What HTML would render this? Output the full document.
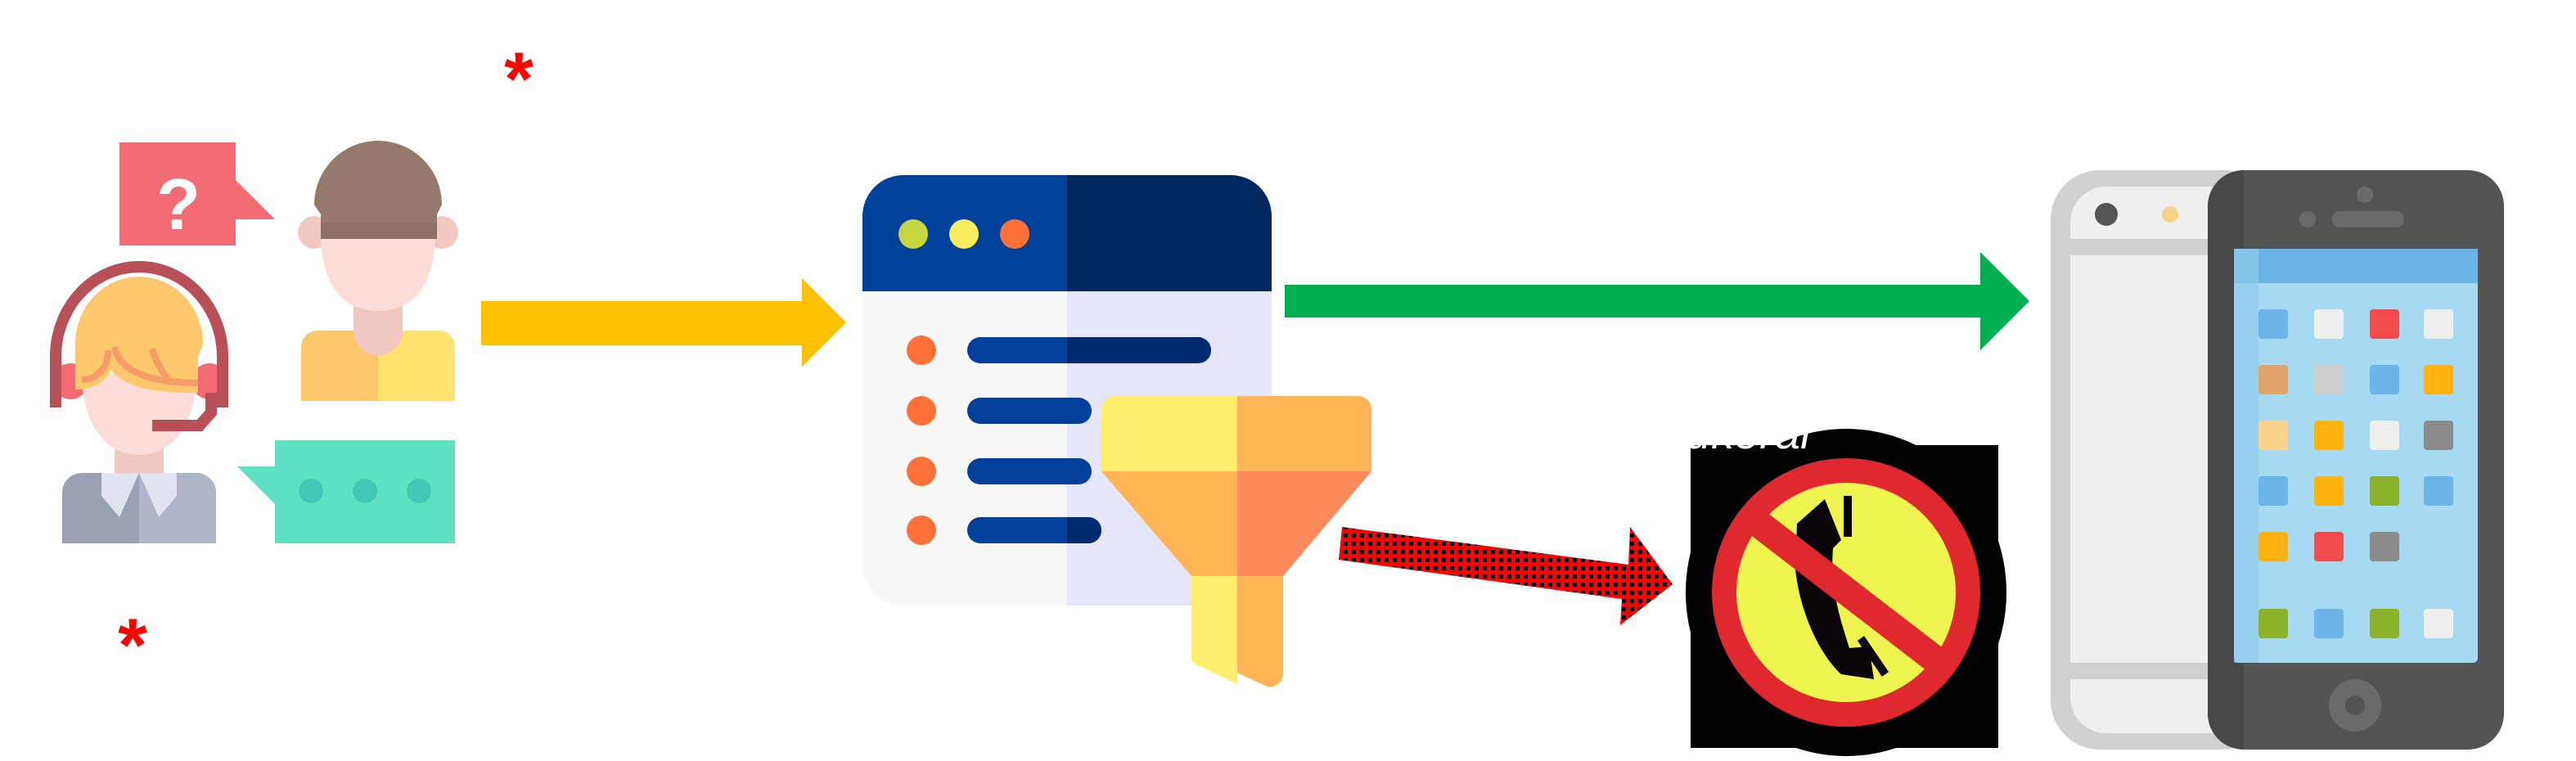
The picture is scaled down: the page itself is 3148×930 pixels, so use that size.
<!DOCTYPE html>
<html><head><meta charset="utf-8"><style>html,body{margin:0;padding:0;background:#fff}svg{display:block}</style></head>
<body>
<svg width="3148" height="930" viewBox="0 0 1574 465" xmlns="http://www.w3.org/2000/svg" font-family="Liberation Sans, sans-serif">
<defs>
<pattern id="dots" width="5" height="5" patternUnits="userSpaceOnUse"><rect width="5" height="5" fill="#ff0000"/><rect x="1" y="1" width="2.4" height="2.4" fill="#000"/></pattern>
<clipPath id="bw"><rect x="527" y="107" width="250" height="263" rx="25"/></clipPath>
</defs>
<!-- asterisks -->
<text x="317" y="64" font-size="46" font-weight="bold" fill="#f00" text-anchor="middle">*</text>
<text x="81" y="410" font-size="46" font-weight="bold" fill="#f00" text-anchor="middle">*</text>
<!-- question bubble -->
<path d="M73 87H144V110L168 134H144V150H73Z" fill="#f36b75"/>
<text x="109" y="140" font-size="44" font-weight="bold" fill="#fff" text-anchor="middle">?</text>
<!-- man -->
<circle cx="192" cy="142" r="10" fill="#f1c8c0"/><circle cx="270" cy="142" r="10" fill="#f1c8c0"/>
<rect x="216" y="175" width="30" height="42" rx="14" fill="#f1c8c0"/>
<path d="M184 212a10 10 0 0 1 10-10h22a15 15 0 0 0 30 0h22a10 10 0 0 1 10 10v33H184Z" fill="#fdc86b"/>
<path d="M231 217a15 15 0 0 0 15-15h22a10 10 0 0 1 10 10v33H231Z" fill="#ffe26f"/>
<path d="M196 142c0 30 12 48 35 48s35-18 35-48Z" fill="#fbdcd8"/>
<path d="M192 125a39 39 0 0 1 78 0l-3 6v15H196v-15Z" fill="#95796a"/>
<rect x="196" y="136" width="71" height="10" fill="#8c7164"/>
<!-- woman -->
<rect x="70" y="270" width="30" height="30" fill="#f1c8c0"/>
<path d="M38 301a12 12 0 0 1 12-12h70a12 12 0 0 1 12 12v31H38Z" fill="#9aa1b2"/>
<path d="M85 289h35a12 12 0 0 1 12 12v31H85Z" fill="#afb4c8"/>
<path d="M62 289h23l-12 27-11-13Z" fill="#e1e3ee"/><path d="M108 289H85l12 27 11-13Z" fill="#e1e3ee"/>
<circle cx="43" cy="233" r="11" fill="#f36b75"/><circle cx="128" cy="233" r="11" fill="#f36b75"/>
<path d="M50 228c0 30 14 50 35 50s35-20 35-50Z" fill="#fbdcd8"/>
<path d="M46 210a39 41 0 0 1 78 0l-3 8v22c-30 0-45-4-53-14-3 6-10 12-22 12v-20Z" fill="#fdc86b"/>
<path d="M50 232c10 0 16-8 16-18M70 212c3 18 30 22 51 22M93 213c2 8 5 12 9 18" stroke="#f59d64" stroke-width="4" fill="none"/>
<path d="M34 249V218a51 55 0 0 1 102 0v31" stroke="#b85058" stroke-width="7" fill="none"/>
<path d="M129 240v12l-7 8H93" stroke="#b85058" stroke-width="7" fill="none"/>
<!-- teal bubble -->
<path d="M168 269H278V332H168V308L145 285H168Z" fill="#5fe0c1"/>
<circle cx="190" cy="300" r="7.5" fill="#44c7b5"/><circle cx="223" cy="300" r="7.5" fill="#44c7b5"/><circle cx="256" cy="300" r="7.5" fill="#44c7b5"/>
<!-- yellow arrow -->
<path d="M294 184H490V170L517 197L490 224V211H294Z" fill="#ffc000"/>
<!-- browser -->
<g clip-path="url(#bw)">
<rect x="527" y="107" width="125" height="71" fill="#00429b"/>
<rect x="652" y="107" width="125" height="71" fill="#00275e"/>
<rect x="527" y="178" width="125" height="192" fill="#f8f8f8"/>
<rect x="652" y="178" width="125" height="192" fill="#e5e5fc"/>
</g>
<circle cx="558" cy="143" r="9" fill="#c5d63e"/><circle cx="589" cy="143" r="9" fill="#f8ed5f"/><circle cx="620" cy="143" r="9" fill="#ff7139"/>
<g fill="#ff7139"><circle cx="563" cy="214" r="9"/><circle cx="563" cy="251" r="9"/><circle cx="563" cy="288" r="9"/><circle cx="563" cy="324" r="9"/></g>
<rect x="591" y="206" width="149" height="16" rx="8" fill="#003f9a"/><path d="M652 206h80a8 8 0 0 1 0 16h-80Z" fill="#002a6e"/>
<rect x="591" y="243" width="76" height="16" rx="8" fill="#003f9a"/>
<rect x="591" y="280" width="76" height="16" rx="8" fill="#003f9a"/>
<rect x="591" y="316" width="82" height="16" rx="8" fill="#003f9a"/><path d="M652 316h13a8 8 0 0 1 0 16h-13Z" fill="#002a6e"/>
<!-- funnel -->
<path d="M681 242H756V288H673V250a8 8 0 0 1 8-8Z" fill="#ffed6b"/>
<path d="M756 242h74a8 8 0 0 1 8 8v38H756Z" fill="#ffb456"/>
<path d="M673 288H756V352H728Z" fill="#ffb456"/>
<path d="M756 288H838L784 352H756Z" fill="#ff8a5d"/>
<path d="M728 352H756V418L733 407a6 6 0 0 1-5-5Z" fill="#ffed6b"/>
<path d="M756 352H784V412a8 8 0 0 1-11 7L756 411Z" fill="#ffb456"/>
<!-- green arrow -->
<path d="M785 174H1210V154L1240 184L1210 214V194H785Z" fill="#00b050"/>
<!-- red dotted arrow -->
<path d="M820 322L995 345L996 322L1022 357L990 382L991 366L818 342Z" fill="url(#dots)"/>
<!-- no-phone sign -->
<rect x="1033" y="272" width="188" height="185" fill="#000"/>
<ellipse cx="1128" cy="362" rx="98" ry="100" fill="#000"/>
<text x="1030" y="274" font-size="28" font-style="italic" fill="#fff">ukeral</text>
<circle cx="1128" cy="362" r="82" fill="#e0292e"/>
<circle cx="1128" cy="362" r="67" fill="#eef54e"/>
<path d="M1115 305L1098 320L1097 348C1100 375 1112 400 1125 412L1145 415L1142 395L1130 396C1125 380 1118 360 1120 335L1125 330Z" fill="#0a0308"/>
<path d="M1129 303V328M1137 390L1152 412" stroke="#0a0308" stroke-width="5"/>
<path d="M1072 318L1185 405" stroke="#e0292e" stroke-width="17"/>
<!-- back phone -->
<rect x="1253" y="104" width="135" height="354" rx="30" fill="#d0d0d0"/>
<rect x="1265" y="114" width="110" height="334" rx="22" fill="#efefef"/>
<rect x="1265" y="146" width="110" height="10" fill="#d0d0d0"/>
<rect x="1265" y="405" width="110" height="10" fill="#d0d0d0"/>
<circle cx="1287" cy="131" r="7" fill="#555"/><circle cx="1326" cy="131" r="5" fill="#f8d48a"/>
<!-- front phone -->
<rect x="1349" y="104" width="181" height="354" rx="22" fill="#545454"/>
<path d="M1371 104V458H1371a22 22 0 0 1-22-22V126a22 22 0 0 1 22-22Z" fill="#474747"/>
<circle cx="1445" cy="119" r="5" fill="#6a6a6a"/><circle cx="1410" cy="134" r="5" fill="#6a6a6a"/>
<rect x="1425" y="129" width="44" height="10" rx="5" fill="#6a6a6a"/>
<rect x="1365" y="152" width="149" height="253" rx="3" fill="#a6d9f2"/>
<rect x="1365" y="152" width="149" height="21" fill="#6db5e8"/>
<rect x="1365" y="152" width="15" height="253" fill="#8fcbed" opacity="0.7"/>
<circle cx="1439" cy="431" r="16" fill="#6a6a6a"/><circle cx="1439" cy="431" r="6" fill="#545454"/>
<g>
<rect x="1380" y="189" width="18" height="18" rx="2" fill="#6db5e8"/><rect x="1414" y="189" width="18" height="18" rx="2" fill="#efefef"/><rect x="1448" y="189" width="18" height="18" rx="2" fill="#f24c4c"/><rect x="1481" y="189" width="18" height="18" rx="2" fill="#efefef"/>
<rect x="1380" y="223" width="18" height="18" rx="2" fill="#dfa36b"/><rect x="1414" y="223" width="18" height="18" rx="2" fill="#cfcfcf"/><rect x="1448" y="223" width="18" height="18" rx="2" fill="#6db5e8"/><rect x="1481" y="223" width="18" height="18" rx="2" fill="#ffb30f"/>
<rect x="1380" y="257" width="18" height="18" rx="2" fill="#fcd38a"/><rect x="1414" y="257" width="18" height="18" rx="2" fill="#ffb30f"/><rect x="1448" y="257" width="18" height="18" rx="2" fill="#efefef"/><rect x="1481" y="257" width="18" height="18" rx="2" fill="#8c8c8c"/>
<rect x="1380" y="291" width="18" height="18" rx="2" fill="#6db5e8"/><rect x="1414" y="291" width="18" height="18" rx="2" fill="#ffb30f"/><rect x="1448" y="291" width="18" height="18" rx="2" fill="#8bb32a"/><rect x="1481" y="291" width="18" height="18" rx="2" fill="#6db5e8"/>
<rect x="1380" y="325" width="18" height="18" rx="2" fill="#ffb30f"/><rect x="1414" y="325" width="18" height="18" rx="2" fill="#f24c4c"/><rect x="1448" y="325" width="18" height="18" rx="2" fill="#8c8c8c"/>
<rect x="1380" y="372" width="18" height="18" rx="2" fill="#8bb32a"/><rect x="1414" y="372" width="18" height="18" rx="2" fill="#6db5e8"/><rect x="1448" y="372" width="18" height="18" rx="2" fill="#8bb32a"/><rect x="1481" y="372" width="18" height="18" rx="2" fill="#efefef"/>
</g>
</svg>
</body></html>
